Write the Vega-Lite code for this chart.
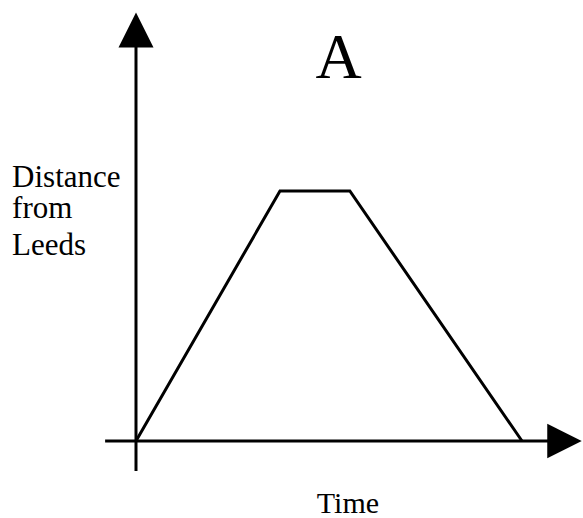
{
  "$schema": "https://vega.github.io/schema/vega-lite/v6.json",
  "description": "Distance-time graph A: distance from Leeds against time",
  "width": 583,
  "height": 518,
  "autosize": {"type": "none"},
  "padding": 0,
  "background": "white",
  "datasets": {
    "journey": [
      {"time": 0, "distance": 0},
      {"time": 3.73, "distance": 10},
      {"time": 5.54, "distance": 10},
      {"time": 10, "distance": 0}
    ],
    "axes": [
      {"t1": 0, "t2": 0, "d1": -1.2, "d2": 16.04},
      {"t1": -0.8, "t2": 10.73, "d1": 0, "d2": 0}
    ],
    "titles": [
      {"text": "A", "time": 5.25, "distance": 14.52, "size": 64},
      {"text": "Time", "time": 5.49, "distance": -2.88, "size": 30}
    ],
    "ylabel": [
      {"text": "Distance", "time": -3.21, "distance": 10.16},
      {"text": "from", "time": -3.21, "distance": 8.92},
      {"text": "Leeds", "time": -3.21, "distance": 7.44}
    ]
  },
  "layer": [
    {
      "data": {"name": "axes"},
      "mark": {"type": "rule", "color": "black", "strokeWidth": 3},
      "encoding": {
        "x": {"field": "t1", "type": "quantitative", "scale": {"domain": [-3.523, 11.58], "nice": false, "zero": false}, "axis": null},
        "x2": {"field": "t2"},
        "y": {"field": "d1", "type": "quantitative", "scale": {"domain": [-3.08, 17.64], "nice": false, "zero": false}, "axis": null},
        "y2": {"field": "d2"}
      }
    },
    {
      "data": {"values": [{"time": 0, "distance": 16.44}]},
      "mark": {"type": "point", "shape": "M0,-1L1,1L-1,1Z", "filled": true, "color": "black", "opacity": 1, "size": 1225},
      "encoding": {
        "x": {"field": "time", "type": "quantitative"},
        "y": {"field": "distance", "type": "quantitative"}
      }
    },
    {
      "data": {"values": [{"time": 11.1, "distance": 0}]},
      "mark": {"type": "point", "shape": "M1,0L-1,-1L-1,1Z", "filled": true, "color": "black", "opacity": 1, "size": 1190},
      "encoding": {
        "x": {"field": "time", "type": "quantitative"},
        "y": {"field": "distance", "type": "quantitative"}
      }
    },
    {
      "data": {"name": "journey"},
      "mark": {"type": "line", "color": "black", "strokeWidth": 3},
      "encoding": {
        "x": {"field": "time", "type": "quantitative"},
        "y": {"field": "distance", "type": "quantitative"},
        "order": {"field": "time"}
      }
    },
    {
      "data": {"name": "titles"},
      "mark": {"type": "text", "font": "Liberation Serif", "color": "black", "baseline": "alphabetic", "align": "center"},
      "encoding": {
        "x": {"field": "time", "type": "quantitative"},
        "y": {"field": "distance", "type": "quantitative"},
        "text": {"field": "text"},
        "size": {"field": "size", "type": "quantitative", "scale": null}
      }
    },
    {
      "data": {"name": "ylabel"},
      "mark": {"type": "text", "font": "Liberation Serif", "color": "black", "baseline": "alphabetic", "align": "left", "fontSize": 31},
      "encoding": {
        "x": {"field": "time", "type": "quantitative"},
        "y": {"field": "distance", "type": "quantitative"},
        "text": {"field": "text"}
      }
    }
  ],
  "config": {"view": {"stroke": null}}
}
